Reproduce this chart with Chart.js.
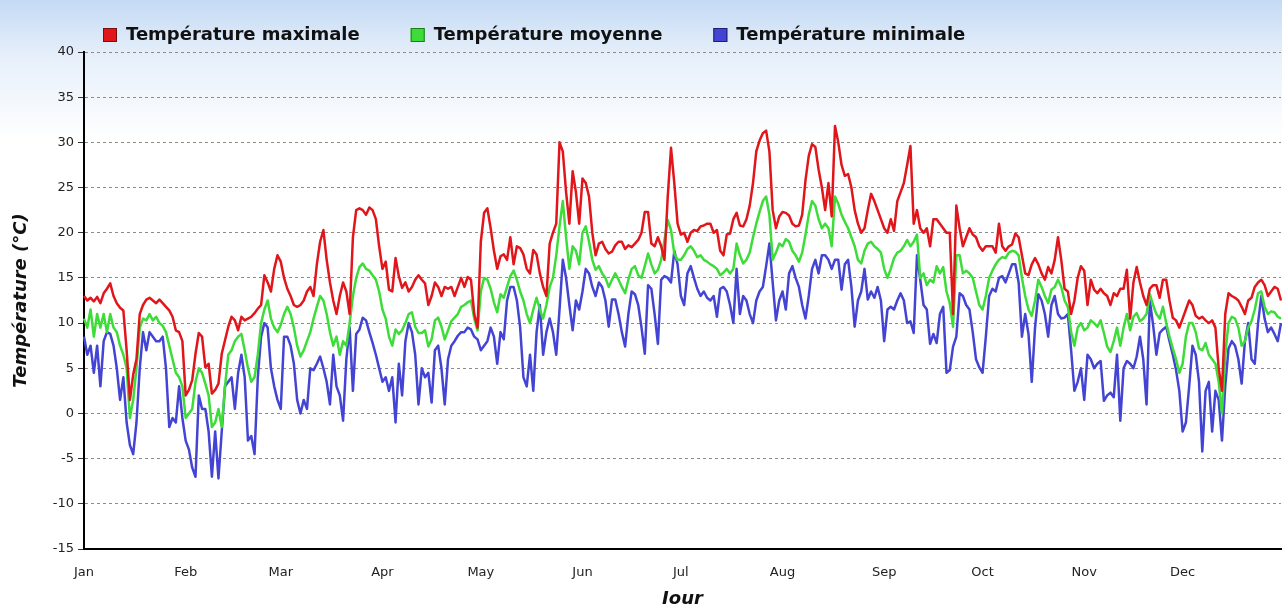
<!DOCTYPE html>
<html lang="fr">
<head>
<meta charset="utf-8">
<title>Températures journalières</title>
<script src="https://cdn.jsdelivr.net/npm/chart.js@4.4.0/dist/chart.umd.min.js"></script>
<style>
  html, body { margin: 0; padding: 0; background: #fff; }
  #cadre {
    width: 1282px; height: 604px;
    background: linear-gradient(to bottom, #c4daf4 0px, #e6effa 55px, #ffffff 140px);
  }
</style>
</head>
<body>
<div id="cadre"><canvas id="graphTemp" width="1282" height="604"></canvas></div>
<script>
// mois affichés sous l'axe et indice du 1er jour de chaque mois (année bissextile)
const mois = ["Jan", "Feb", "Mar", "Apr", "May", "Jun", "Jul", "Aug", "Sep", "Oct", "Nov", "Dec"];
const debutMois = [0, 31, 60, 91, 121, 152, 182, 213, 244, 274, 305, 335];

// températures journalières (°C), une ligne par mois
const tempMax = [
  13.0, 12.5, 12.8, 12.4, 12.9, 12.2, 13.3, 13.8, 14.4, 13.0, 12.2, 11.7, 11.4, 7.0, 1.5, 4.3, 6.0, 11.0, 12.0, 12.6, 12.8, 12.5, 12.2, 12.6, 12.2, 11.8, 11.4, 10.7, 9.2, 9.0, 8.0,
  2.0, 2.6, 3.7, 6.6, 8.9, 8.5, 5.1, 5.5, 2.2, 2.6, 3.3, 6.6, 8.1, 9.6, 10.7, 10.3, 9.2, 10.7, 10.3, 10.5, 10.7, 11.1, 11.6, 12.0, 15.3, 14.5, 13.5, 16.0, 17.5,
  16.8, 15.0, 13.8, 13.0, 12.0, 11.8, 12.0, 12.5, 13.5, 14.0, 13.0, 16.5, 19.0, 20.3, 17.0, 14.5, 12.5, 11.0, 13.0, 14.5, 13.5, 11.0, 19.5, 22.5, 22.7, 22.5, 22.0, 22.8, 22.5, 21.5, 18.5,
  16.0, 16.8, 13.7, 13.5, 17.2, 15.2, 13.9, 14.5, 13.5, 14.0, 14.8, 15.3, 14.8, 14.4, 12.0, 13.0, 14.5, 14.0, 13.0, 14.0, 13.8, 14.0, 13.0, 14.0, 15.0, 14.0, 15.1, 14.8, 11.0, 9.5,
  19.0, 22.2, 22.7, 20.5, 18.0, 16.0, 17.4, 17.6, 17.0, 19.5, 16.5, 18.5, 18.3, 17.6, 16.0, 15.5, 18.1, 17.6, 15.5, 14.0, 13.0, 18.8, 20.0, 21.0, 30.0, 29.0, 24.5, 21.0, 26.8, 24.5, 21.0,
  26.0, 25.5, 24.0, 20.0, 17.5, 18.8, 19.0, 18.2, 17.7, 17.9, 18.6, 19.0, 19.0, 18.2, 18.6, 18.4, 18.8, 19.2, 20.0, 22.3, 22.3, 18.8, 18.5, 19.5, 18.5, 17.0, 24.0, 29.4, 25.5, 21.0,
  19.8, 20.0, 19.0, 20.0, 20.3, 20.2, 20.7, 20.8, 21.0, 21.0, 20.0, 20.3, 18.0, 17.5, 19.8, 19.9, 21.5, 22.2, 20.8, 20.7, 21.5, 23.0, 25.5, 29.0, 30.2, 31.0, 31.3, 29.0, 22.5, 20.5, 21.8,
  22.3, 22.2, 21.9, 21.0, 20.7, 20.8, 22.0, 25.8, 28.5, 29.8, 29.5, 27.0, 25.0, 22.5, 25.5, 21.8, 31.8, 30.0, 27.5, 26.3, 26.5, 25.0, 22.5, 21.0, 20.0, 20.5, 22.5, 24.3, 23.5, 22.5, 21.5,
  20.5, 20.0, 21.5, 20.2, 23.5, 24.5, 25.5, 27.5, 29.6, 21.0, 22.5, 20.5, 20.0, 20.5, 18.5, 21.5, 21.5, 21.0, 20.5, 20.0, 20.0, 11.0, 23.0, 20.5, 18.5, 19.5, 20.5, 19.8, 19.5, 18.5,
  18.0, 18.5, 18.5, 18.5, 17.8, 21.0, 18.5, 18.0, 18.5, 18.7, 19.9, 19.5, 17.5, 15.5, 15.3, 16.5, 17.2, 16.5, 15.5, 14.8, 16.2, 15.5, 17.0, 19.5, 17.0, 13.8, 13.5, 11.0, 12.5, 15.0, 16.3,
  15.8, 12.0, 14.8, 13.7, 13.3, 13.8, 13.3, 13.0, 12.0, 13.3, 13.0, 13.8, 13.8, 15.9, 10.5, 14.5, 16.2, 14.5, 13.0, 12.0, 13.8, 14.2, 14.2, 12.8, 14.8, 14.8, 12.5, 10.6, 10.3, 9.5,
  10.5, 11.5, 12.5, 12.0, 10.8, 10.5, 10.7, 10.3, 10.0, 10.3, 9.5, 5.0, 2.5, 11.0, 13.3, 13.0, 12.8, 12.5, 11.8, 11.0, 12.5, 12.8, 14.0, 14.5, 14.8, 14.2, 13.0, 13.5, 14.0, 13.8, 12.5
];

const tempMoy = [
  10.5, 9.5, 11.5, 8.5, 11.0, 9.5, 11.0, 9.0, 11.0, 9.5, 9.0, 7.5, 6.5, 5.0, -0.5, 1.5, 5.0, 9.5, 10.5, 10.3, 11.0, 10.3, 10.7, 10.0, 9.7, 9.0, 7.5, 6.0, 4.5, 4.0, 3.0,
  -0.5, 0.0, 0.5, 3.5, 5.0, 4.5, 3.3, 2.0, -1.5, -1.0, 0.5, -1.5, 3.0, 6.5, 7.0, 8.0, 8.5, 8.8, 7.0, 5.0, 3.5, 4.0, 6.5, 10.0, 11.5, 12.5, 10.5, 9.5, 9.0,
  9.8, 11.0, 11.8, 11.0, 9.5, 7.5, 6.3, 7.0, 8.0, 9.0, 10.5, 11.8, 13.0, 12.5, 11.0, 9.0, 7.5, 8.5, 6.5, 8.0, 7.5, 10.0, 13.0, 15.0, 16.2, 16.6, 16.0, 15.8, 15.3, 14.8, 13.5,
  11.5, 10.5, 8.5, 7.5, 9.3, 8.8, 9.2, 10.0, 11.0, 11.2, 9.6, 8.9, 8.9, 9.2, 7.4, 8.2, 10.3, 10.6, 9.6, 8.2, 9.2, 10.2, 10.6, 11.0, 11.8, 12.0, 12.3, 12.5, 10.5, 9.2,
  13.5, 15.0, 14.8, 13.8, 12.3, 11.2, 13.2, 12.8, 14.0, 15.2, 15.8, 14.8, 13.5, 12.5, 11.0, 10.0, 11.5, 12.8, 11.5, 10.5, 12.0, 14.0, 15.0, 17.5, 20.7, 23.5, 19.5, 16.0, 18.5, 18.0, 16.5,
  20.0, 20.7, 19.0, 17.0, 15.9, 16.3, 15.5, 15.0, 14.0, 14.8, 15.5, 14.8, 14.0, 13.3, 14.8, 16.0, 16.3, 15.3, 15.0, 16.3, 17.7, 16.5, 15.5, 15.9, 17.0, 19.2, 21.4, 20.3, 17.7, 17.0,
  17.0, 17.5, 18.2, 18.5, 18.0, 17.3, 17.5, 17.0, 16.8, 16.5, 16.3, 16.0, 15.3, 15.6, 16.0, 15.5, 16.0, 18.8, 17.5, 16.6, 17.0, 17.8, 19.5, 21.0, 22.3, 23.5, 24.0, 22.0, 17.0, 17.8, 18.8,
  18.5, 19.3, 19.0, 18.0, 17.5, 16.8, 17.8, 19.8, 22.0, 23.5, 23.0, 21.5, 20.5, 21.0, 20.5, 18.5, 24.0, 23.2, 22.0, 21.2, 20.5, 19.5, 18.5, 17.0, 16.6, 18.0, 18.8, 19.0, 18.5, 18.2, 17.8,
  16.0, 15.0, 16.0, 17.2, 17.8, 18.0, 18.5, 19.2, 18.5, 19.0, 19.8, 15.0, 15.5, 14.2, 14.8, 14.5, 16.3, 15.5, 16.2, 13.5, 12.2, 9.6, 17.5, 17.5, 15.5, 15.8, 15.5, 15.0, 13.5, 12.0,
  11.5, 13.0, 15.0, 15.8, 16.5, 17.0, 17.3, 17.2, 17.8, 18.0, 17.9, 17.5, 15.0, 13.0, 11.5, 10.8, 12.5, 14.8, 14.0, 13.0, 12.2, 13.7, 14.0, 14.8, 14.0, 12.5, 11.8, 9.0, 7.5, 9.5, 10.0,
  9.2, 9.5, 10.3, 10.0, 9.6, 10.3, 8.9, 7.4, 6.8, 8.0, 9.5, 7.5, 9.5, 11.0, 9.2, 10.7, 11.1, 10.2, 10.5, 11.0, 13.2, 12.0, 11.0, 10.5, 11.8, 10.0, 8.5, 7.2, 6.0, 4.5,
  5.5, 8.5, 10.0, 10.0, 9.0, 7.2, 7.0, 7.8, 6.5, 6.0, 5.5, 3.5, 0.0, 6.5, 10.0, 10.7, 10.5, 9.5, 7.5, 8.0, 9.5, 10.2, 11.5, 13.3, 13.5, 11.8, 11.0, 11.3, 11.2, 10.7, 10.5
];

const tempMin = [
  8.5, 6.5, 7.5, 4.5, 7.5, 3.0, 8.0, 9.0, 8.8, 7.5, 5.0, 1.5, 4.0, -1.0, -3.5, -4.5, -1.0, 5.0, 9.0, 7.0, 9.0, 8.5, 8.0, 8.0, 8.5, 5.0, -1.5, -0.5, -1.0, 3.0, -0.5,
  -3.0, -4.0, -6.0, -7.0, 2.0, 0.5, 0.5, -2.0, -7.0, -2.0, -7.2, -2.0, 3.0, 3.5, 4.0, 0.5, 4.5, 6.5, 4.0, -3.0, -2.5, -4.5, 4.0, 8.5, 10.0, 9.5, 5.0, 3.0, 1.5,
  0.5, 8.5, 8.5, 7.5, 5.5, 1.5, 0.0, 1.5, 0.5, 5.0, 4.8, 5.5, 6.3, 5.0, 3.5, 1.0, 6.5, 3.0, 2.0, -0.8, 6.0, 9.5, 2.5, 8.8, 9.3, 10.6, 10.3, 9.0, 7.8, 6.5, 5.0,
  3.5, 4.0, 2.5, 4.0, -1.0, 5.5, 2.0, 8.0, 10.0, 9.0, 6.5, 1.0, 5.0, 4.0, 4.5, 1.2, 7.0, 7.5, 5.0, 1.0, 6.0, 7.5, 8.0, 8.6, 9.0, 9.0, 9.5, 9.3, 8.5, 8.2,
  7.0, 7.5, 8.0, 9.5, 8.5, 5.5, 9.0, 8.2, 12.5, 14.0, 14.0, 12.5, 9.5, 4.0, 3.0, 6.5, 2.5, 9.0, 12.0, 6.5, 9.0, 10.5, 9.0, 6.5, 11.5, 17.0, 15.0, 12.0, 9.2, 12.5, 11.5,
  13.5, 16.0, 15.5, 14.0, 13.0, 14.5, 14.0, 12.5, 9.6, 12.6, 12.6, 11.0, 9.0, 7.4, 11.0, 13.5, 13.2, 12.0, 9.5, 6.6, 14.2, 13.8, 11.0, 7.7, 14.8, 15.2, 15.0, 14.5, 18.0, 16.5,
  13.0, 12.0, 15.5, 16.3, 15.0, 13.8, 13.0, 13.5, 12.8, 12.5, 13.0, 10.7, 13.8, 14.0, 13.5, 12.0, 10.0, 16.0, 11.0, 13.0, 12.5, 11.0, 10.0, 12.5, 13.5, 14.0, 16.3, 18.8, 14.5, 10.3, 12.5,
  13.5, 11.5, 15.5, 16.3, 15.0, 14.0, 12.0, 10.5, 13.0, 16.0, 17.0, 15.5, 17.5, 17.5, 17.0, 16.0, 17.0, 17.0, 13.7, 16.5, 17.0, 14.0, 9.6, 12.5, 13.5, 16.0, 12.6, 13.5, 12.8, 14.0, 12.5,
  8.0, 11.5, 11.8, 11.5, 12.5, 13.3, 12.5, 10.0, 10.2, 8.9, 17.5, 14.8, 12.0, 11.5, 7.7, 8.8, 7.8, 11.0, 11.8, 4.5, 4.8, 7.4, 8.5, 13.3, 13.0, 12.0, 11.5, 9.0, 6.0, 5.1,
  4.5, 8.5, 13.0, 13.8, 13.5, 15.0, 15.2, 14.5, 15.5, 16.5, 16.5, 14.5, 8.5, 11.0, 8.8, 3.5, 9.5, 13.2, 12.5, 11.0, 8.5, 12.0, 13.0, 11.0, 10.5, 10.6, 11.0, 7.0, 2.5, 3.5, 5.0,
  1.5, 6.5, 6.0, 5.0, 5.5, 5.8, 1.4, 2.0, 2.3, 1.8, 6.5, -0.8, 5.0, 5.8, 5.5, 5.0, 6.3, 8.5, 6.0, 1.0, 12.5, 9.8, 6.5, 8.9, 9.3, 9.6, 8.0, 6.5, 4.8, 2.5,
  -2.0, -1.0, 3.0, 7.5, 6.5, 3.5, -4.2, 2.5, 3.5, -2.0, 2.5, 1.5, -3.0, 3.0, 7.2, 8.0, 7.5, 6.0, 3.3, 8.0, 10.0, 6.0, 5.5, 10.0, 13.0, 10.5, 9.0, 9.5, 8.8, 8.0, 10.0
];

// axe des ordonnées
const yMin = -15, yMax = 40, yPas = 5;

const jours = tempMax.map((_, i) => i + 1);
const police = '"DejaVu Sans", Verdana, sans-serif';
Chart.defaults.font.family = police;

// légende dessinée en haut à gauche, carrés colorés + libellés en gras
const legendeHaut = {
  id: 'legendeHaut',
  afterDraw(chart) {
    const ctx = chart.ctx;
    ctx.save();
    ctx.font = 'bold 18px ' + police;
    ctx.textBaseline = 'middle';
    let x = 103;
    chart.data.datasets.forEach(ds => {
      ctx.fillStyle = ds.borderColor;
      ctx.fillRect(x, 28, 14, 14);
      ctx.strokeStyle = ds.bordLegende;
      ctx.lineWidth = 1;
      ctx.strokeRect(x + 0.5, 28.5, 13, 13);
      ctx.fillStyle = '#111';
      ctx.fillText(ds.label, x + 23, 35);
      x += 23 + ctx.measureText(ds.label).width + 51;
    });
    ctx.restore();
  }
};

new Chart(document.getElementById('graphTemp'), {
  type: 'line',
  data: {
    labels: jours,
    datasets: [
      { label: 'Température maximale', data: tempMax, borderColor: '#e0161b', bordLegende: '#7a0c0c' },
      { label: 'Température moyenne', data: tempMoy, borderColor: '#3ddc39', bordLegende: '#1d7a1d' },
      { label: 'Température minimale', data: tempMin, borderColor: '#4444d4', bordLegende: '#1f1f78' }
    ].map(ds => Object.assign(ds, { borderWidth: 2.5, pointRadius: 0, fill: false, tension: 0, borderJoinStyle: 'round' }))
  },
  options: {
    responsive: false,
    animation: false,
    layout: { padding: { top: 52, right: 1, left: 0, bottom: 0 } },
    plugins: { legend: { display: false }, tooltip: { enabled: false } },
    scales: {
      x: {
        type: 'category',
        offset: false,
        ticks: {
          autoSkip: false, maxRotation: 0, minRotation: 0, color: '#222', padding: 10,
          font: { size: 13 },
          callback: (v, i) => { const k = debutMois.indexOf(i); return k >= 0 ? mois[k] : null; }
        },
        grid: { drawOnChartArea: false, tickLength: 6, tickColor: 'rgba(0,0,0,0)' },
        border: { color: '#000', width: 2 },
        title: { display: true, text: 'Jour', color: '#111', font: { size: 18, weight: 'bold', style: 'italic' }, padding: { top: 0, bottom: -6 } },
        afterFit(scale) { scale.height = 55; }
      },
      y: {
        min: yMin, max: yMax,
        ticks: { stepSize: yPas, color: '#222', padding: 4, font: { size: 13 } },
        grid: { color: '#8c8c8c', lineWidth: 1, tickLength: 6, tickColor: '#333', tickBorderDash: [] },
        border: { color: '#000', width: 2, dash: [3, 3] },
        title: { display: true, text: 'Température (°C)', color: '#111', font: { size: 18, weight: 'bold', style: 'italic' }, padding: { top: 11 } },
        afterFit(scale) { scale.width = 84; }
      }
    }
  },
  plugins: [legendeHaut]
});
</script>
</body>
</html>
